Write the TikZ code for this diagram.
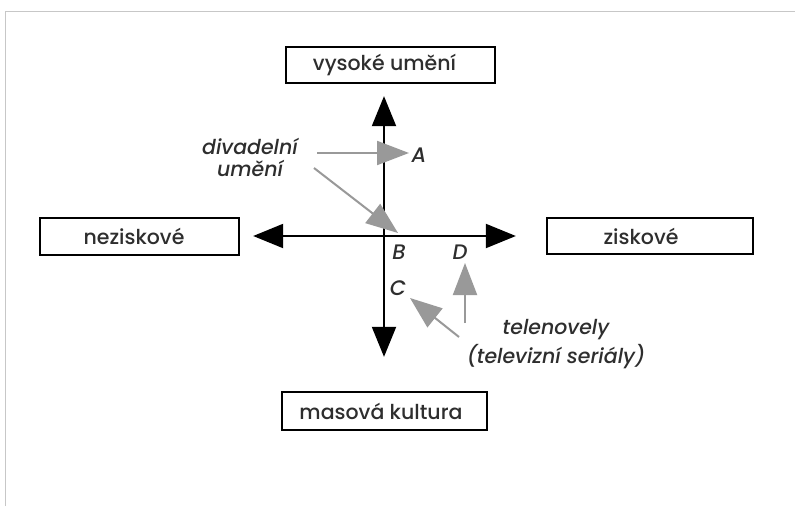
\documentclass[tikz,border=0pt]{standalone}
\usepackage{fontspec}
\setmainfont{Poppins}[UprightFont={* Medium}, ItalicFont={* Medium Italic}]
\usetikzlibrary{arrows.meta}
\begin{document}
\begin{tikzpicture}[x=1pt,y=-1pt,
  box/.style={draw=black, line width=2.3pt, inner sep=0pt, text=black!82,
    font=\fontsize{20.5}{22}\selectfont},
  axis/.style={draw=black, line width=2pt, -{Triangle[length=30pt,width=24pt]}},
  grayarr/.style={draw=black!40, line width=2pt, -{Triangle[length=32pt,width=24pt,fill=black!40]}},
  lettr/.style={font=\itshape\fontsize{21}{23}\selectfont, text=black!82, inner sep=0pt},
  note/.style={font=\itshape\fontsize{20.5}{22}\selectfont, text=black!82, align=center, inner sep=0pt}]
\useasboundingbox (0,0) rectangle (795,506);
\fill[white] (0,0) rectangle (795,506);
\draw[black!22, line width=1pt] (5,506) -- (5,11) -- (795,11);
% boxes
\node[box, minimum width=209pt, minimum height=36pt] (top) at (390.5,65) {\hspace*{-12pt}vysoké umění};
\node[box, minimum width=199pt, minimum height=37pt] (left) at (139.5,236.5) {\hspace*{-11pt}neziskové};
\node[box, minimum width=206pt, minimum height=36pt] (right) at (650,236) {\hspace*{-18pt}ziskové};
\node[box, minimum width=205pt, minimum height=38pt] (bottom) at (384.5,411) {\hspace*{-7pt}masová kultura};
% axes
\coordinate (O) at (384,236);
\draw[axis, shorten >=12pt] (O) -- (O |- top.south);
\draw[axis, shorten >=34pt] (O) -- (O |- bottom.north);
\draw[axis, shorten >=13pt] (O) -- (left.east |- O);
\draw[axis, shorten >=30pt] (O) -- (right.west |- O);
% letters
\node[lettr] (A) at (419,155) {A};
\node[lettr] (B) at (399,252) {B};
\node[lettr] (C) at (398,288) {C};
\node[lettr] (D) at (460,252) {D};
% notes
\node[note] (div) at (250,157) {divadelní\\[0pt]umění};
\node[note] (tel) at (556,344) {telenovely\\[3pt](televizní seriály)};
% gray arrows
\coordinate (s1) at (317,153);
\coordinate (e1) at (409,153);
\coordinate (s2) at (314,168);
\coordinate (e2) at (398,233);
\coordinate (s3) at (459,337);
\coordinate (e3) at (410,298);
\coordinate (s4) at (465,323);
\coordinate (e4) at (465,263);
\draw[grayarr] (s1) -- (e1);
\draw[grayarr] (s2) -- (e2);
\draw[grayarr] (s3) -- (e3);
\draw[grayarr] (s4) -- (e4);
\end{tikzpicture}
\end{document}
